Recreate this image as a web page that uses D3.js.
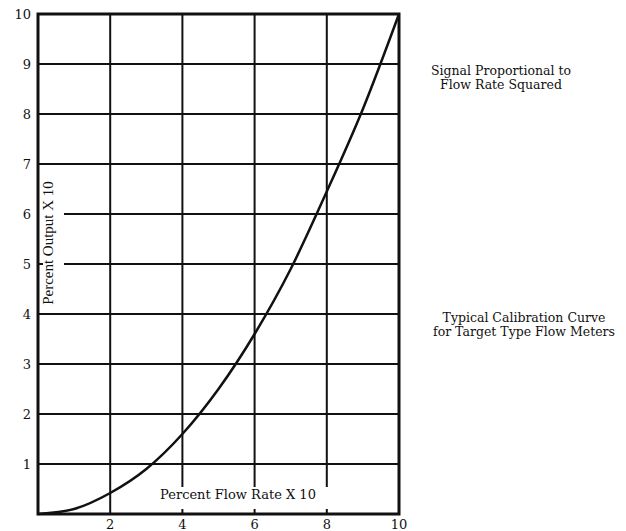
<html>
<head>
<meta charset="utf8">
<style>
  body { margin: 0; background: #fff; }
  text { font-family: "DejaVu Serif", "Liberation Serif", serif; fill: #111; }
</style>
</head>
<body>
<svg width="626" height="531"></svg>
<script src="https://d3js.org/d3.v7.min.js"></script>
<script>
// flow rate (x10 %) and output (x10 %)
var flow = [0, 1, 2, 3, 4, 5, 6, 7, 8, 9, 10];
var output = [0, 0.1, 0.42, 0.9, 1.6, 2.5, 3.6, 4.9, 6.45, 8.1, 10];
var xTicks = [2, 4, 6, 8, 10];
var yTicks = [1, 2, 3, 4, 5, 6, 7, 8, 9, 10];
var notes = [
  ["Signal Proportional to", "Flow Rate Squared"],
  ["Typical Calibration Curve", "for Target Type Flow Meters"]
];

var svg = d3.select("svg");
var x = d3.scaleLinear().domain([0, 10]).range([38, 399]);
var y = d3.scaleLinear().domain([0, 10]).range([514, 14]);

// horizontal grid; 5 and 6 are cut short by the y label
svg.append("g").selectAll("line")
  .data(yTicks.slice(0, 9))
  .enter().append("line")
  .attr("x1", function(d) { return (d == 5 || d == 6) ? 64 : x(0); })
  .attr("x2", x(10))
  .attr("y1", function(d) { return y(d); })
  .attr("y2", function(d) { return y(d); })
  .attr("stroke", "#111").attr("stroke-width", 2);

// vertical grid; 4,6,8 stop above the x label
svg.append("g").selectAll("line")
  .data(xTicks.slice(0, 4))
  .enter().append("line")
  .attr("x1", function(d) { return x(d); })
  .attr("x2", function(d) { return x(d); })
  .attr("y1", y(10))
  .attr("y2", function(d) { return d == 2 ? y(0) : 487; })
  .attr("stroke", "#111").attr("stroke-width", 2);

// little stubs where grid lines were cut
svg.append("g").selectAll("line")
  .data([4, 6, 8])
  .enter().append("line")
  .attr("x1", function(d) { return x(d); })
  .attr("x2", function(d) { return x(d); })
  .attr("y1", 509).attr("y2", y(0))
  .attr("stroke", "#111").attr("stroke-width", 2);
svg.append("line")
  .attr("x1", x(0)).attr("x2", x(0) + 5)
  .attr("y1", y(5)).attr("y2", y(5))
  .attr("stroke", "#111").attr("stroke-width", 2);

// frame
svg.append("rect")
  .attr("x", x(0)).attr("y", y(10))
  .attr("width", x(10) - x(0)).attr("height", y(0) - y(10))
  .attr("fill", "none").attr("stroke", "#111").attr("stroke-width", 3);

// curve
var line = d3.line()
  .x(function(d, i) { return x(flow[i]); })
  .y(function(d) { return y(d); })
  .curve(d3.curveMonotoneX);
svg.append("path")
  .datum(output)
  .attr("d", line)
  .attr("fill", "none").attr("stroke", "#111").attr("stroke-width", 2.5);

// tick labels
svg.append("g").selectAll("text")
  .data(xTicks)
  .enter().append("text")
  .attr("x", function(d) { return x(d); })
  .attr("y", 529)
  .attr("text-anchor", "middle")
  .attr("font-size", 13)
  .text(function(d) { return d; });
svg.append("g").selectAll("text")
  .data(yTicks)
  .enter().append("text")
  .attr("x", 31)
  .attr("y", function(d) { return y(d) + 5; })
  .attr("text-anchor", "end")
  .attr("font-size", 13)
  .text(function(d) { return d; });

// axis titles
svg.append("text")
  .attr("x", 238).attr("y", 499)
  .attr("text-anchor", "middle")
  .attr("font-size", 13)
  .text("Percent Flow Rate X 10");
svg.append("text")
  .attr("transform", "translate(53,243) rotate(-90)")
  .attr("text-anchor", "middle")
  .attr("font-size", 15)
  .style("font-family", "'Liberation Serif', serif")
  .text("Percent Output X 10");

// side notes
var noteY = [75, 322];
var noteX = [501, 524];
notes.forEach(function(n, k) {
  n.forEach(function(s, j) {
    svg.append("text")
      .attr("x", noteX[k]).attr("y", noteY[k] + j * 14)
      .attr("text-anchor", "middle")
      .attr("font-size", 12.5)
      .text(s);
  });
});
</script>
</body>
</html>
